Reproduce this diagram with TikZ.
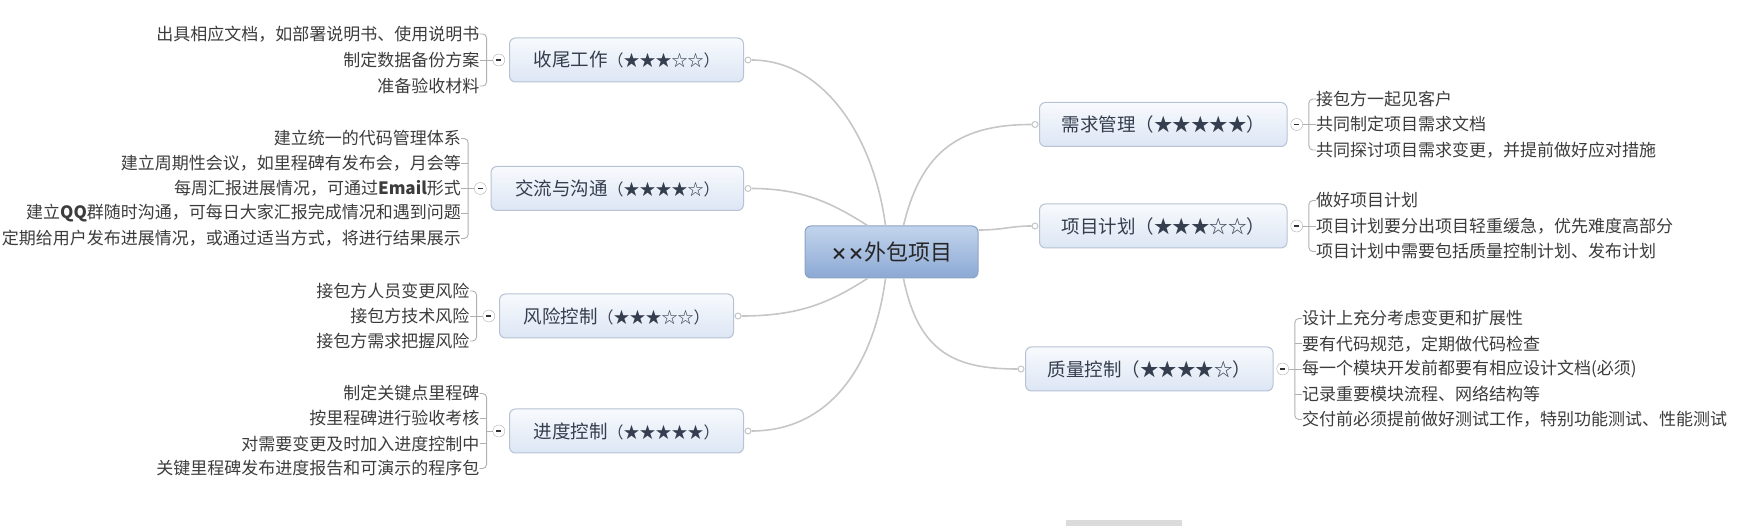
\documentclass[tikz,border=0pt]{standalone}
\usepackage{fontspec}
\setmainfont{Noto Sans CJK SC}
\usepackage{tikz}
\usetikzlibrary{positioning,calc}
\definecolor{linegray}{HTML}{C6C6C6}
\definecolor{bracegray}{HTML}{B0B0B0}
\definecolor{boxtop}{HTML}{F8FAFD}
\definecolor{boxbottom}{HTML}{DCE6F4}
\definecolor{boxline}{HTML}{B7C3D4}
\definecolor{roottop}{HTML}{C2D4EC}
\definecolor{rootbottom}{HTML}{8CA9D4}
\definecolor{rootline}{HTML}{8AA2C4}
\definecolor{titletext}{HTML}{343E4E}
\definecolor{leaftext}{HTML}{3C3C3C}

\newcommand{\lstars}[1]{{\fontsize{16}{16}\selectfont （#1）}}
\newcommand{\collapse}{\rule[-0.8pt]{5pt}{1.6pt}}

\tikzset{
  rootbox/.style={draw=rootline,line width=1,rounded corners=6,top color=roottop,bottom color=rootbottom,
    minimum width=173,minimum height=52,font=\fontsize{22}{22}\selectfont,text=black!85},
  topicbox/.style={draw=boxline,line width=1,rounded corners=6,top color=boxtop,bottom color=boxbottom,
    minimum height=44,inner xsep=22,font=\fontsize{18.5}{19}\selectfont,text=titletext},
  ltopic/.style={topicbox,inner xsep=24},
  leaf/.style={inner sep=0,font=\fontsize{17}{17}\selectfont,text=leaftext},
  minus/.style={circle,draw=bracegray,fill=white,minimum size=12,inner sep=0,text=black!80},
  dot/.style={circle,draw=linegray,fill=white,minimum size=6,inner sep=0,line width=1},
  branch/.style={draw=linegray,line width=1.6},
  brace/.style={draw=bracegray,line width=0.9,rounded corners=4},
}

\begin{document}
\begin{tikzpicture}[x=1pt,y=1pt]
  \useasboundingbox (0,0) rectangle (1741,-526);

  % centre
  \node[rootbox] (root) at (891.5,-252) {{\bfseries\fontsize{17}{17}\selectfont ××}外包项目};

  % topics, left
  \node[ltopic,anchor=east] (sw) at (744,-60) {收尾工作\lstars{★★★☆☆}};
  \node[ltopic,anchor=east] (jl) at (744,-188.5) {交流与沟通\lstars{★★★★☆}};
  \node[ltopic,anchor=east] (fx) at (734,-316) {风险控制\lstars{★★★☆☆}};
  \node[ltopic,anchor=east] (jd) at (744,-431) {进度控制\lstars{★★★★★}};

  % topics, right
  \node[topicbox,anchor=west] (xq) at (1039,-124.5) {需求管理（★★★★★）};
  \node[topicbox,anchor=west] (jh) at (1039,-226) {项目计划（★★★☆☆）};
  \node[topicbox,anchor=west] (zl) at (1025,-369) {质量控制（★★★★☆）};

  % joints on the topic boxes
  \node[dot] (sw-d) at ([xshift=4]sw.east) {};
  \node[dot] (jl-d) at ([xshift=4]jl.east) {};
  \node[dot] (fx-d) at ([xshift=4]fx.east) {};
  \node[dot] (jd-d) at ([xshift=4]jd.east) {};
  \node[dot] (xq-d) at ([xshift=-4]xq.west) {};
  \node[dot] (jh-d) at ([xshift=-4]jh.west) {};
  \node[dot] (zl-d) at ([xshift=-4]zl.west) {};

  % branches
  \draw[branch] (sw-d) .. controls +(75,0) and +(-12,90) .. ([xshift=-6]root.north);
  \draw[branch] (jl-d) .. controls +(55,0) and +(-35,22) .. ([xshift=-24]root.north);
  \draw[branch] (fx-d) .. controls +(65,0) and +(-35,-22) .. ([xshift=-24]root.south);
  \draw[branch] (jd-d) .. controls +(80,0) and +(-12,-90) .. ([xshift=-6]root.south);
  \draw[branch] ([xshift=12]root.north) .. controls +(18,75) and +(-75,0) .. (xq-d);
  \draw[branch] ([yshift=22]root.east) .. controls +(25,0) and +(-25,0) .. (jh-d);
  \draw[branch] ([xshift=12]root.south) .. controls +(15,-75) and +(-65,0) .. (zl-d);

  % 收尾工作
  \node[minus,left=4pt of sw] (sw-m) {\collapse};
  \coordinate (sw-b) at ([xshift=-6]sw-m.west);
  \node[leaf,anchor=east] (sw1) at ([xshift=-13,yshift=26]sw-m.west) {出具相应文档，如部署说明书、使用说明书};
  \node[leaf,anchor=east] (sw2) at ([xshift=-13]sw-m.west) {制定数据备份方案};
  \node[leaf,anchor=east] (sw3) at ([xshift=-13,yshift=-26]sw-m.west) {准备验收材料};
  \draw[brace] (sw1.east) -| (sw-b) |- (sw3.east);
  \draw[brace] (sw-m.west) -- (sw2.east);

  % 交流与沟通
  \node[minus,left=4pt of jl] (jl-m) {\collapse};
  \coordinate (jl-b) at ([xshift=-6]jl-m.west);
  \node[leaf,anchor=east] (jl1) at ([xshift=-13,yshift=50]jl-m.west) {建立统一的代码管理体系};
  \node[leaf,anchor=east] (jl2) at ([xshift=-13,yshift=25]jl-m.west) {建立周期性会议，如里程碑有发布会，月会等};
  \node[leaf,anchor=east] (jl3) at ([xshift=-13]jl-m.west) {每周汇报进展情况，可通过\textbf{Email}形式};
  \node[leaf,anchor=east] (jl4) at ([xshift=-13,yshift=-25]jl-m.west) {建立\textbf{QQ}群随时沟通，可每日大家汇报完成情况和遇到问题};
  \node[leaf,anchor=east] (jl5) at ([xshift=-13,yshift=-50]jl-m.west) {定期给用户发布进展情况，或通过适当方式，将进行结果展示};
  \draw[brace] (jl1.east) -| (jl-b) |- (jl5.east);
  \draw[brace] (jl-m.west) -- (jl3.east);
  \draw[brace] (jl2.east) -- (jl2.east -| jl-b);
  \draw[brace] (jl4.east) -- (jl4.east -| jl-b);

  % 风险控制
  \node[minus,left=4pt of fx] (fx-m) {\collapse};
  \coordinate (fx-b) at ([xshift=-6]fx-m.west);
  \node[leaf,anchor=east] (fx1) at ([xshift=-13,yshift=25]fx-m.west) {接包方人员变更风险};
  \node[leaf,anchor=east] (fx2) at ([xshift=-13]fx-m.west) {接包方技术风险};
  \node[leaf,anchor=east] (fx3) at ([xshift=-13,yshift=-25]fx-m.west) {接包方需求把握风险};
  \draw[brace] (fx1.east) -| (fx-b) |- (fx3.east);
  \draw[brace] (fx-m.west) -- (fx2.east);

  % 进度控制
  \node[minus,left=4pt of jd] (jd-m) {\collapse};
  \coordinate (jd-b) at ([xshift=-6]jd-m.west);
  \node[leaf,anchor=east] (jd1) at ([xshift=-13,yshift=37.5]jd-m.west) {制定关键点里程碑};
  \node[leaf,anchor=east] (jd2) at ([xshift=-13,yshift=12.5]jd-m.west) {按里程碑进行验收考核};
  \node[leaf,anchor=east] (jd3) at ([xshift=-13,yshift=-12.5]jd-m.west) {对需要变更及时加入进度控制中};
  \node[leaf,anchor=east] (jd4) at ([xshift=-13,yshift=-37.5]jd-m.west) {关键里程碑发布进度报告和可演示的程序包};
  \draw[brace] (jd1.east) -| (jd-b) |- (jd4.east);
  \draw[brace] (jd-m.west) -- (jd-b);
  \draw[brace] (jd2.east) -- (jd2.east -| jd-b);
  \draw[brace] (jd3.east) -- (jd3.east -| jd-b);

  % 需求管理
  \node[minus,right=3pt of xq] (xq-m) {\collapse};
  \coordinate (xq-b) at ([xshift=6]xq-m.east);
  \node[leaf,anchor=west] (xq1) at ([xshift=13,yshift=25.5]xq-m.east) {接包方一起见客户};
  \node[leaf,anchor=west] (xq2) at ([xshift=13]xq-m.east) {共同制定项目需求文档};
  \node[leaf,anchor=west] (xq3) at ([xshift=13,yshift=-25.5]xq-m.east) {共同探讨项目需求变更，并提前做好应对措施};
  \draw[brace] (xq1.west) -| (xq-b) |- (xq3.west);
  \draw[brace] (xq-m.east) -- (xq2.west);

  % 项目计划
  \node[minus,right=3pt of jh] (jh-m) {\collapse};
  \coordinate (jh-b) at ([xshift=6]jh-m.east);
  \node[leaf,anchor=west] (jh1) at ([xshift=13,yshift=25.5]jh-m.east) {做好项目计划};
  \node[leaf,anchor=west] (jh2) at ([xshift=13]jh-m.east) {项目计划要分出项目轻重缓急，优先难度高部分};
  \node[leaf,anchor=west] (jh3) at ([xshift=13,yshift=-25.5]jh-m.east) {项目计划中需要包括质量控制计划、发布计划};
  \draw[brace] (jh1.west) -| (jh-b) |- (jh3.west);
  \draw[brace] (jh-m.east) -- (jh2.west);

  % 质量控制
  \node[minus,right=3pt of zl] (zl-m) {\collapse};
  \coordinate (zl-b) at ([xshift=6]zl-m.east);
  \node[leaf,anchor=west] (zl1) at ([xshift=13,yshift=50.5]zl-m.east) {设计上充分考虑变更和扩展性};
  \node[leaf,anchor=west] (zl2) at ([xshift=13,yshift=25.25]zl-m.east) {要有代码规范，定期做代码检查};
  \node[leaf,anchor=west] (zl3) at ([xshift=13]zl-m.east) {每一个模块开发前都要有相应设计文档(必须)};
  \node[leaf,anchor=west] (zl4) at ([xshift=13,yshift=-25.25]zl-m.east) {记录重要模块流程、网络结构等};
  \node[leaf,anchor=west] (zl5) at ([xshift=13,yshift=-50.5]zl-m.east) {交付前必须提前做好测试工作，特别功能测试、性能测试};
  \draw[brace] (zl1.west) -| (zl-b) |- (zl5.west);
  \draw[brace] (zl-m.east) -- (zl3.west);
  \draw[brace] (zl2.west) -- (zl2.west -| zl-b);
  \draw[brace] (zl4.west) -- (zl4.west -| zl-b);

  \fill[black!14] (1066,-520) rectangle (1182,-526);
\end{tikzpicture}
\end{document}
